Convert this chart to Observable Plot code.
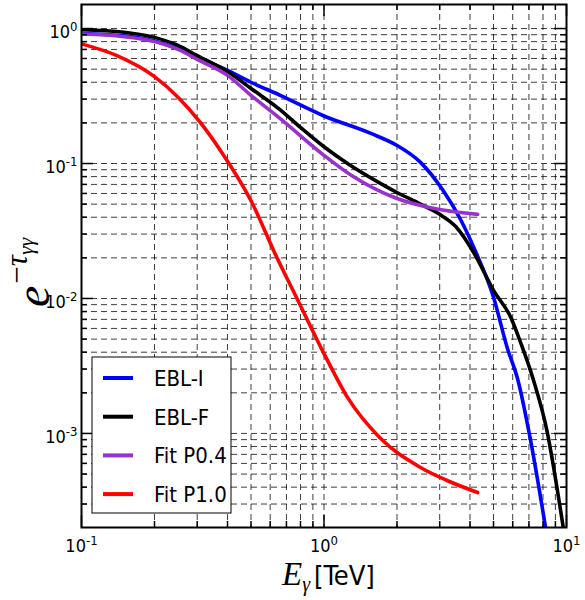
<!DOCTYPE html>
<html><head><meta charset="utf-8">
<script src="https://cdn.jsdelivr.net/npm/d3@7"></script>
<script src="https://cdn.jsdelivr.net/npm/@observablehq/plot@0.6"></script>
<style>body{margin:0;background:#fff}</style>
</head><body><div id="chart"></div>
<script>
// ---- data ----
const seriesNames = ["EBL-I", "EBL-F", "Fit P0.4", "Fit P1.0"];
const seriesColors = ["#0000ff", "#000000", "#9932cc", "#ff0000"];

const eblI_E = [0.1,0.15,0.2,0.25,0.3,0.4,0.5,0.66,1.0,1.56,2.0,2.5,3.1,3.67,4.2,5.0,5.7,6.3,7.1,8.2];
const eblI_V = [0.92,0.88,0.81,0.71,0.61,0.49,0.40,0.32,0.225,0.167,0.136,0.102,0.063,0.038,0.0227,0.0102,0.0043,0.0025,0.0009,0.0002];

const eblF_E = [0.1,0.15,0.2,0.25,0.3,0.4,0.5,0.66,0.8,1.0,1.25,1.7,2.0,2.5,3.0,3.5,4.2,5.0,5.9,6.5,7.3,8.35,8.85,9.7];
const eblF_V = [0.98,0.94,0.86,0.75,0.63,0.48,0.36,0.25,0.185,0.133,0.1,0.0716,0.061,0.05,0.042,0.034,0.021,0.0115,0.0072,0.0046,0.0025,0.001,0.00056,0.0002];

const p04_E = [0.1,0.15,0.2,0.25,0.3,0.4,0.5,0.66,1.0,1.32,2.0,2.75,4.3];
const p04_V = [0.91,0.87,0.80,0.70,0.59,0.45,0.32,0.215,0.115,0.080,0.055,0.047,0.042];

const p10_E = [0.1,0.14,0.2,0.25,0.31,0.374,0.5,0.64,0.78,1.0,1.25,1.7,2.5,3.2,4.3];
const p10_V = [0.77,0.63,0.44,0.31,0.20,0.125,0.053,0.020,0.0097,0.0039,0.00185,0.00093,0.00056,0.00045,0.000365];

const xMajor = [0.1, 1, 10];
const xMinor = [0.2,0.3,0.4,0.5,0.6,0.7,0.8,0.9,2,3,4,5,6,7,8,9];
const yMajor = [1e-3, 1e-2, 1e-1, 1];
const yMinor = [3e-4,4e-4,5e-4,6e-4,7e-4,8e-4,9e-4,
  2e-3,3e-3,4e-3,5e-3,6e-3,7e-3,8e-3,9e-3,
  2e-2,3e-2,4e-2,5e-2,6e-2,7e-2,8e-2,9e-2,
  0.2,0.3,0.4,0.5,0.6,0.7,0.8,0.9];

const seriesE = [eblI_E, eblF_E, p04_E, p10_E];
const seriesV = [eblI_V, eblF_V, p04_V, p10_V];

// ---- layout ----
const WIDTH = 585, HEIGHT = 600;
const mL = 81, mR = 19, mT = 4, mB = 73;
const W = WIDTH - mL - mR, H = HEIGHT - mT - mB;

const fmt = d => "10|" + Math.round(Math.log10(d));

const dash = {stroke: "#000", strokeWidth: 0.9, strokeDasharray: "6,4", strokeOpacity: 0.85};

const lineMarks = seriesNames.map((name, i) =>
  Plot.line(seriesE[i].map((e, j) => ({E: e, v: seriesV[i][j]})),
    {x: "E", y: "v", stroke: seriesColors[i], strokeWidth: 3.6, curve: "monotone-x", clip: true}));

const tk = {strokeWidth: 1.5, stroke: "#000"};

const plot = Plot.plot({
  width: WIDTH, height: HEIGHT,
  marginLeft: mL, marginRight: mR, marginTop: mT, marginBottom: mB,
  style: {fontFamily: "'DejaVu Sans Condensed', 'DejaVu Sans', sans-serif", fontStretch: "condensed", color: "#000", background: "#fff"},
  x: {type: "log", domain: [0.1, 10], axis: null},
  y: {type: "log", domain: [2.01e-4, 1.507], axis: null},
  marks: [
    Plot.ruleX([...xMajor, ...xMinor], dash),
    Plot.ruleY([...yMajor, ...yMinor], dash),
    ...lineMarks,
    Plot.tickX(xMajor, {x: d => d, insetTop: H - 12, ...tk}),
    Plot.tickX(xMajor, {x: d => d, insetBottom: H - 12, ...tk}),
    Plot.tickX(xMinor, {x: d => d, insetTop: H - 6, ...tk}),
    Plot.tickX(xMinor, {x: d => d, insetBottom: H - 6, ...tk}),
    Plot.tickY(yMajor, {y: d => d, insetRight: W - 12, ...tk}),
    Plot.tickY(yMajor, {y: d => d, insetLeft: W - 12, ...tk}),
    Plot.tickY(yMinor, {y: d => d, insetRight: W - 6, ...tk}),
    Plot.tickY(yMinor, {y: d => d, insetLeft: W - 6, ...tk}),
    Plot.frame({stroke: "#000", strokeWidth: 2}),
    Plot.axisX(xMajor, {anchor: "bottom", tickSize: 0, tickPadding: 12, fontSize: 18, tickFormat: fmt, label: null}),
    Plot.axisY(yMajor, {anchor: "left", tickSize: 0, tickPadding: 4, dy: 4, fontSize: 18, tickFormat: fmt, label: null})
  ]
});

document.getElementById("chart").appendChild(plot);
const svg = d3.select(plot);

// tick labels: base "10" with a raised exponent
svg.selectAll('g[aria-label="x-axis tick label"] text, g[aria-label="y-axis tick label"] text').each(function() {
  const t = d3.select(this);
  const s = t.text();
  if (!s.includes("|")) return;
  const [base, ex] = s.split("|");
  t.text(null);
  t.append("tspan").text(base);
  t.append("tspan").attr("font-size", 13).attr("dy", -7).text(ex);
});

// legend
const lg = svg.append("g").attr("text-anchor", "start");
lg.append("rect").attr("x", 92).attr("y", 357).attr("width", 139).attr("height", 156)
  .attr("fill", "#fff").attr("stroke", "#000").attr("stroke-width", 1);
seriesNames.forEach((name, i) => {
  const y = 378 + i * 38.7;
  lg.append("line").attr("x1", 103).attr("x2", 133).attr("y1", y).attr("y2", y)
    .attr("stroke", seriesColors[i]).attr("stroke-width", 4);
  lg.append("text").attr("x", 154).attr("y", y).attr("dy", "0.36em")
    .attr("font-size", 22).attr("fill", "#000").text(name);
});

// x label
const xl = svg.append("text").attr("x", 282).attr("y", 585).attr("fill", "#000").attr("text-anchor", "start");
xl.append("tspan").attr("font-family", "'Liberation Serif', serif").attr("font-style", "italic").attr("font-size", 33).text("E");
xl.append("tspan").attr("font-family", "'Liberation Serif', serif").attr("font-style", "italic").attr("font-size", 20).attr("dy", 6).text("γ");
xl.append("tspan").attr("font-size", 27).attr("dy", -6).attr("dx", 4).text("[TeV]");

// y label
const yl = svg.append("text").attr("transform", "translate(49,307) rotate(-90)").attr("fill", "#000")
  .attr("text-anchor", "start")
  .attr("font-family", "'Liberation Serif', serif").attr("font-style", "italic");
yl.append("tspan").attr("font-size", 48).text("e");
yl.append("tspan").attr("font-size", 31).attr("font-style", "normal").attr("dy", -22).attr("dx", 2).text("−");
yl.append("tspan").attr("font-size", 31).text("τ");
yl.append("tspan").attr("font-size", 22).attr("dy", 6).text("γγ");
</script>
</body></html>
